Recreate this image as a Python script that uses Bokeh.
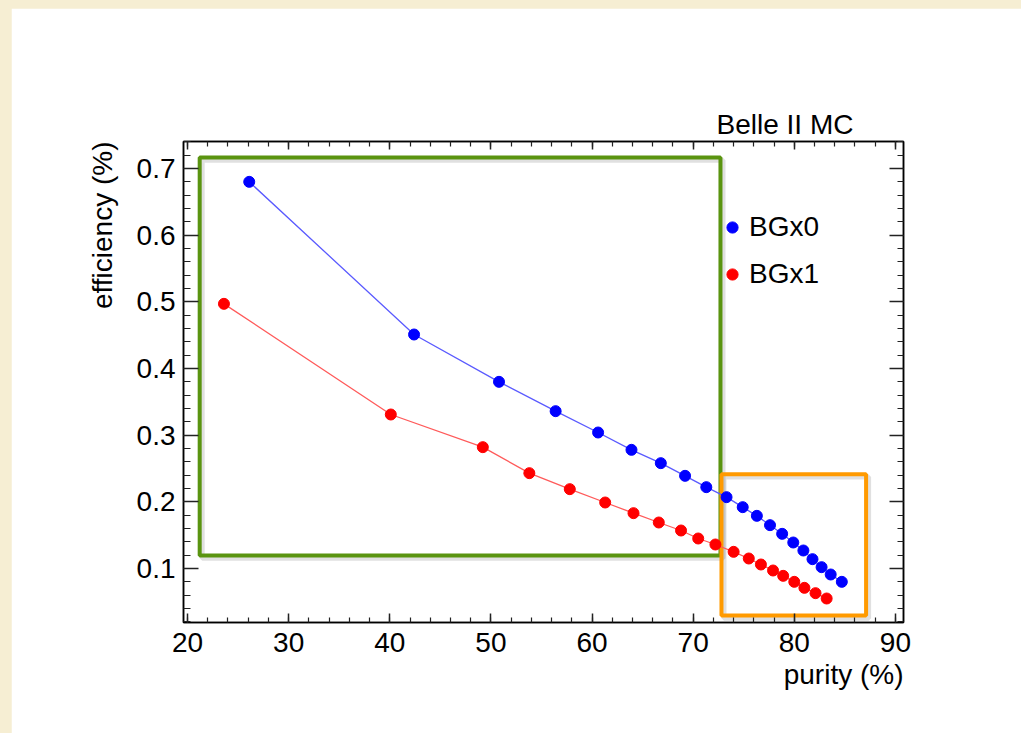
from bokeh.plotting import figure
from bokeh.models import (Range1d, SingleIntervalTicker, LinearAxis, BoxAnnotation,
                          Legend, LegendItem, Title, CustomJSTickFormatter)
from bokeh.layouts import column
from bokeh.embed import file_html
from bokeh.resources import INLINE

# ---- data ----
bg0_purity = [26.1, 42.4, 50.8, 56.4, 60.6, 63.9, 66.8, 69.2, 71.3, 73.3,
              74.9, 76.3, 77.6, 78.8, 79.9, 80.9, 81.8, 82.7, 83.6, 84.7]
bg0_eff = [0.680, 0.451, 0.380, 0.336, 0.304, 0.278, 0.258, 0.239, 0.222, 0.207,
           0.192, 0.179, 0.165, 0.152, 0.139, 0.127, 0.114, 0.102, 0.091, 0.080]
bg1_purity = [23.6, 40.1, 49.2, 53.8, 57.8, 61.3, 64.1, 66.6, 68.8, 70.5,
              72.2, 74.0, 75.5, 76.7, 77.9, 78.9, 80.0, 81.0, 82.1, 83.2]
bg1_eff = [0.497, 0.331, 0.282, 0.243, 0.219, 0.199, 0.183, 0.169, 0.157, 0.145,
           0.136, 0.125, 0.115, 0.106, 0.097, 0.089, 0.080, 0.071, 0.063, 0.055]
series_names = ["BGx0", "BGx1"]
x_title = "purity (%)"
y_title = "efficiency (%)"
corner_text = "Belle II MC"

# highlight boxes (annotation extents, data units)
green_box = dict(left=21.2, right=72.7, bottom=0.1195, top=0.7165)
orange_box = dict(left=72.8, right=87.1, bottom=0.0295, top=0.2412)

FONT = "Liberation Sans"
FS = "28px"

p = figure(width=1010, height=725, output_backend="svg", toolbar_location=None,
           x_range=Range1d(19.6, 90.8), y_range=Range1d(0.019, 0.7405),
           min_border_left=172, min_border_top=133, min_border_right=118, min_border_bottom=111,
           background_fill_color="white", border_fill_color="white")
p.margin = (8, 0, 0, 11)
p.grid.visible = False
p.outline_line_color = "black"
p.outline_line_width = 1.5

xt = SingleIntervalTicker(interval=10, num_minor_ticks=5)
yt = SingleIntervalTicker(interval=0.1, num_minor_ticks=5)
blank = CustomJSTickFormatter(code="return ''")

def style_axis(ax, ticker, maj, mnr, show_labels, standoff=8):
    ax.ticker = ticker
    ax.axis_line_color = "black"
    ax.axis_line_width = 1.5
    ax.major_tick_in = maj
    ax.major_tick_out = 0
    ax.minor_tick_in = mnr
    ax.minor_tick_out = 0
    ax.major_tick_line_color = "#222222"
    ax.minor_tick_line_color = "#222222"
    ax.major_tick_line_width = 1.5
    ax.minor_tick_line_width = 1.2
    if show_labels:
        ax.major_label_text_font = FONT
        ax.major_label_text_font_size = FS
        ax.major_label_text_color = "black"
        ax.major_label_standoff = standoff
    else:
        ax.formatter = blank
        ax.major_label_standoff = 0

style_axis(p.xaxis[0], xt, 9, 5, True, 10)
style_axis(p.yaxis[0], yt, 15, 7, True, 8)
top_ax = LinearAxis()
right_ax = LinearAxis()
p.add_layout(top_ax, "above")
p.add_layout(right_ax, "right")
style_axis(top_ax, xt, 8, 5, False)
style_axis(right_ax, yt, 14, 6, False)

# axis titles (ROOT style: at the end of the axes) and corner text
p.title.text = corner_text
p.title.align = "left"
p.title.offset = 533
p.title.text_font = FONT
p.title.text_font_size = FS
p.title.text_font_style = "normal"
p.title.text_color = "black"
p.title.standoff = 4

p.add_layout(Title(text=x_title, align="right", text_font=FONT, text_font_size=FS,
                   text_font_style="normal", text_color="black", standoff=4), "below")
p.add_layout(Title(text=y_title, align="right", text_font=FONT, text_font_size=FS,
                   text_font_style="normal", text_color="black", standoff=32), "left")

# highlight boxes (under the data)
for bx, col in [(green_box, "#5a9410"), (orange_box, "#ff9a00")]:
    shadow = BoxAnnotation(left=bx["left"] + 0.25, right=bx["right"] + 0.25,
                           bottom=bx["bottom"] - 0.004, top=bx["top"] - 0.004,
                           fill_alpha=0, line_color="#000000", line_alpha=0.12, line_width=5,
                           level="underlay")
    p.add_layout(shadow)
    box = BoxAnnotation(left=bx["left"], right=bx["right"], bottom=bx["bottom"], top=bx["top"],
                        fill_alpha=0, line_color=col, line_alpha=1.0, line_width=4,
                        level="underlay")
    p.add_layout(box)

# series
p.line(bg0_purity, bg0_eff, line_color="#5a5aff", line_width=1.3)
p.line(bg1_purity, bg1_eff, line_color="#ff5a5a", line_width=1.3)
r0 = p.scatter(bg0_purity, bg0_eff, size=11, fill_color="#0000ff", line_color="#0000ff")
r1 = p.scatter(bg1_purity, bg1_eff, size=11, fill_color="#ff0000", line_color="#ff0000")

legend = Legend(items=[LegendItem(label=series_names[0], renderers=[r0]),
                       LegendItem(label=series_names[1], renderers=[r1])],
                location=(535, 331), orientation="vertical",
                glyph_width=28, glyph_height=34, label_height=34, spacing=13,
                label_standoff=3, padding=0, margin=0,
                border_line_alpha=0, background_fill_alpha=0,
                label_text_font=FONT, label_text_font_size=FS, label_text_color="black")
p.add_layout(legend, "center")

root = column(p, styles={"background-color": "#f6eed3"})
open("out.html", "w").write(file_html(root, INLINE))
